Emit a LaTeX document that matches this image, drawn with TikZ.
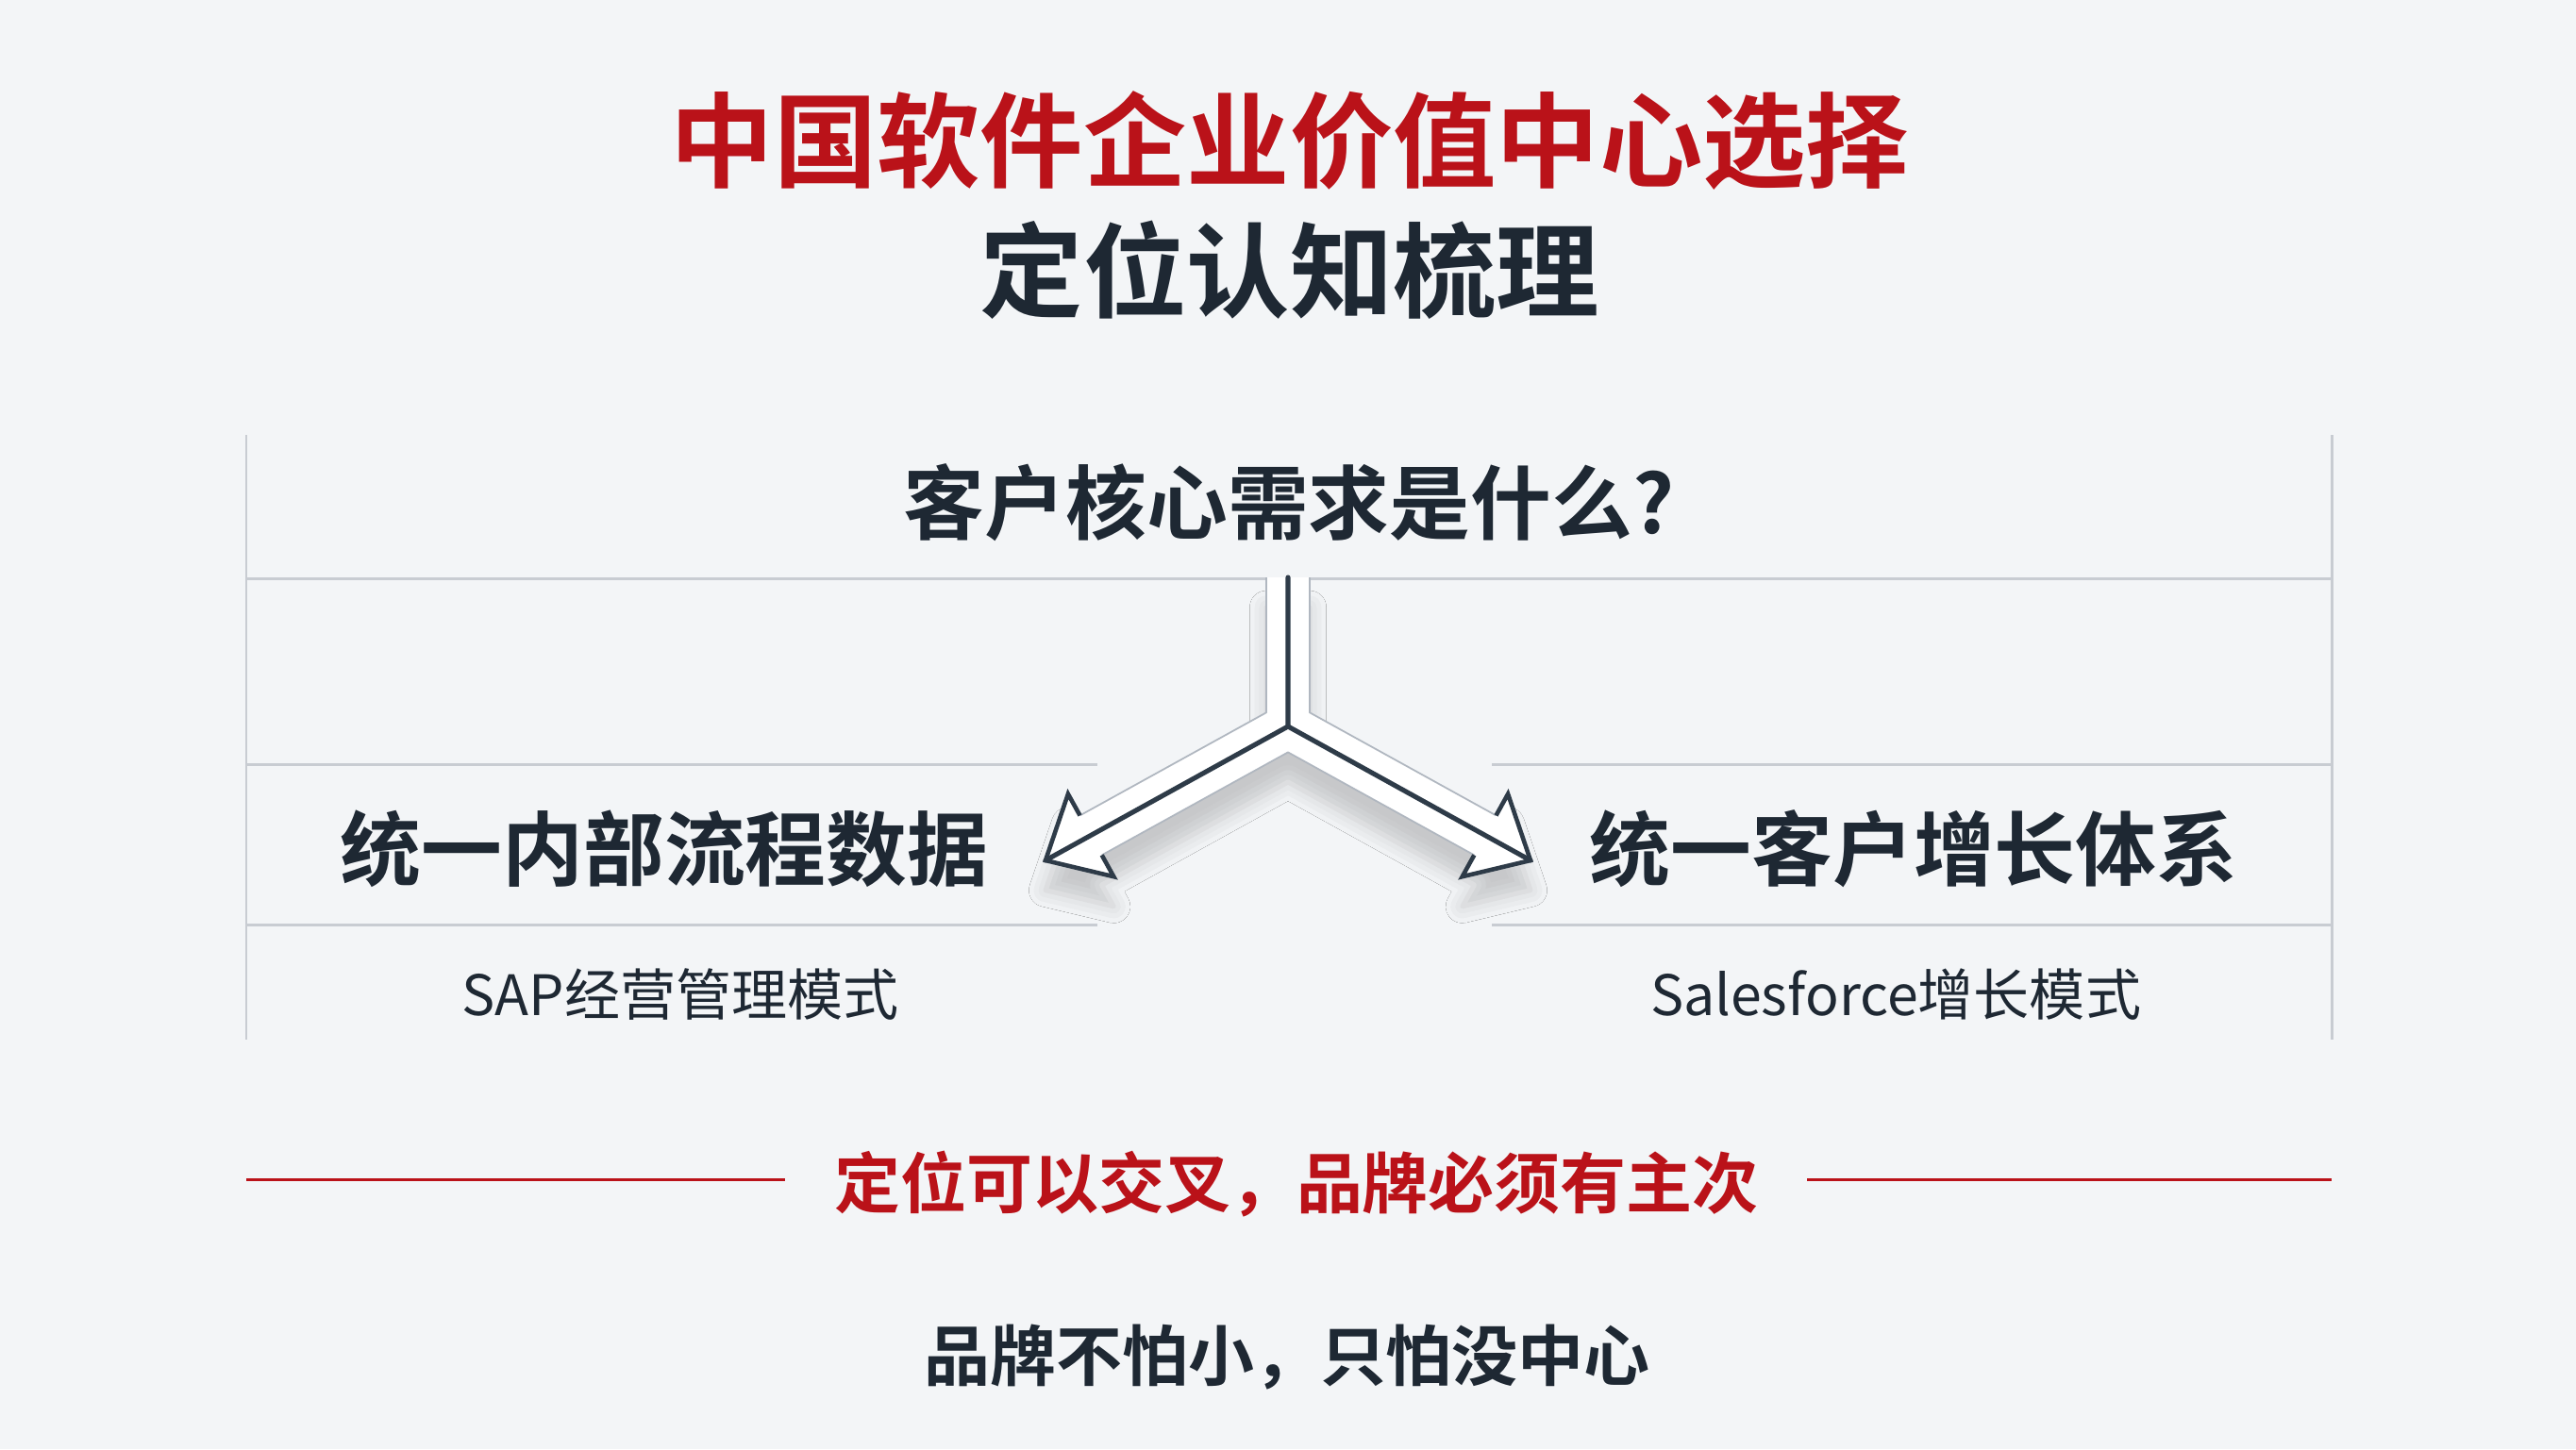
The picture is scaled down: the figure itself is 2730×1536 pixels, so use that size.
\documentclass[tikz,border=0pt]{standalone}
\usepackage{fontspec}
\setmainfont{Noto Sans CJK SC}[BoldFont={Noto Sans CJK SC Bold}]
\usetikzlibrary{shadows.blur}
\definecolor{bgc}{HTML}{F3F5F7}
\definecolor{redc}{HTML}{BA1219}
\definecolor{ink}{HTML}{1E2833}
\definecolor{rule}{HTML}{C8CCD2}
\definecolor{arrowdark}{HTML}{2E3B48}
\definecolor{arrowedge}{HTML}{B0B7C0}
\tikzset{
  rulel/.style={draw=rule, line width=0.85pt},
  redl/.style={draw=redc, line width=0.85pt},
  txt/.style={anchor=base, inner sep=0pt},
  titlefont/.style={txt, font=\bfseries\fontsize{31.1pt}{32pt}\selectfont},
  headfont/.style={txt, text=ink, font=\bfseries\fontsize{24.4pt}{25pt}\selectfont},
  subfont/.style={txt, text=ink, font=\fontsize{16.8pt}{17pt}\selectfont},
  tagfont/.style={txt, font=\bfseries\fontsize{19.9pt}{20pt}\selectfont},
  darkline/.style={draw=arrowdark, line width=1.45pt, line join=round, line cap=round},
  headline/.style={draw=arrowdark, line width=1.3pt, line join=miter},
  edgeline/.style={draw=arrowedge, line width=0.5pt, line join=round},
}
\begin{document}
\begin{tikzpicture}[x=0.01cm, y=-0.01cm]
\useasboundingbox (0,0) rectangle (2730,1536);
\fill[bgc] (0,0) rectangle (2730,1536);

% frame rules
\draw[rulel] (261,461) -- (261,1102);
\draw[rulel] (2471,461) -- (2471,1102);
\draw[rulel] (261,613) -- (2471,613);
\draw[rulel] (261,810) -- (1163,810);
\draw[rulel] (1581,810) -- (2471,810);
\draw[rulel] (261,980) -- (1163,980);
\draw[rulel] (1581,980) -- (2471,980);

% red rules
\draw[redl] (261,1250) -- (832,1250);
\draw[redl] (1915,1250) -- (2471,1250);

% arrow
\coordinate (st) at (1365,612);
\coordinate (J) at (1365,770);
\coordinate (TL) at (1108,912);
\coordinate (TR) at (1622,912);
\coordinate (B1L) at (1131.9,841.6);
\coordinate (N1L) at (1144.5,864.4);
\coordinate (N2L) at (1167.7,906.4);
\coordinate (B2L) at (1180.3,929.2);
\coordinate (B1R) at (1598.1,841.6);
\coordinate (N1R) at (1585.5,864.4);
\coordinate (N2R) at (1562.3,906.4);
\coordinate (B2R) at (1549.7,929.2);
\coordinate (UL) at (1342,755.3);
\coordinate (UR) at (1388,755.3);
\coordinate (BC) at (1365,797.4);
\coordinate (SL) at (1342,612);
\coordinate (SR) at (1388,612);

\fill[white, blur shadow={shadow xshift=0pt, shadow yshift=-9pt, shadow blur radius=5pt, shadow opacity=18}]
  (SL) -- (UL) -- (N1L) -- (B1L) -- (TL) -- (B2L) -- (N2L) -- (BC) -- (N2R) -- (B2R) -- (TR) -- (B1R) -- (N1R) -- (UR) -- (SR) -- cycle;
\draw[edgeline] (SL) -- (UL) -- (N1L);
\draw[edgeline] (N2L) -- (BC) -- (N2R);
\draw[edgeline] (SR) -- (UR) -- (N1R);
\draw[darkline] (st) -- (J) -- (TL);
\draw[darkline] (J) -- (TR);
\draw[headline] (N1L) -- (B1L) -- (TL) -- (B2L) -- (N2L);
\draw[headline] (N1R) -- (B1R) -- (TR) -- (B2R) -- (N2R);

% texts
\node[titlefont, text=redc] (t1) at (1367,190) {中国软件企业价值中心选择};
\node[titlefont, text=ink] (t2) at (1367,328) {定位认知梳理};
\node[headfont] (q) at (1366,565) {客户核心需求是什么?};
\node[headfont] (hl) at (704,932) {统一内部流程数据};
\node[headfont] (hr) at (2028,932) {统一客户增长体系};
\node[subfont] (sl) at (721,1076) {SAP经营管理模式};
\node[subfont] (sr) at (2009,1076) {Salesforce增长模式};
\node[tagfont, text=redc] (tag) at (1374,1280) {定位可以交叉，品牌必须有主次};
\node[tagfont, text=ink] (bt) at (1364,1463) {品牌不怕小，只怕没中心};
\end{tikzpicture}
\end{document}
